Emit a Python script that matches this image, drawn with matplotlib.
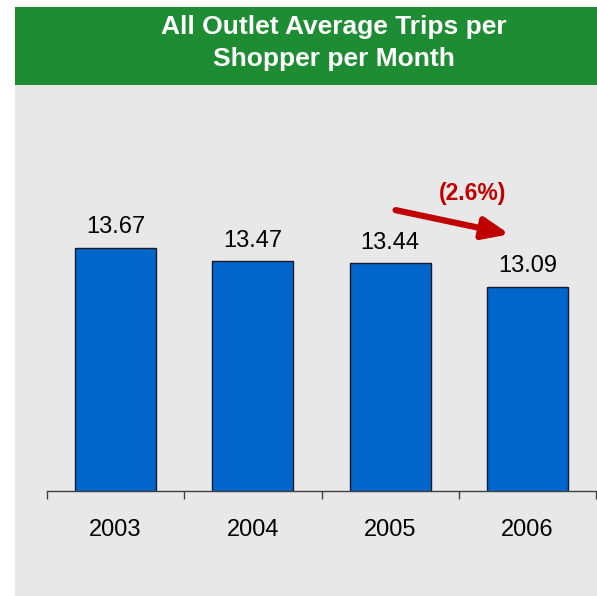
import matplotlib.pyplot as plt
from matplotlib.patches import Rectangle

years = ["2003", "2004", "2005", "2006"]
trips = [13.67, 13.47, 13.44, 13.09]
title = "All Outlet Average Trips per\nShopper per Month"

plt.rcParams["font.family"] = ["Liberation Sans", "DejaVu Sans"]

W, H = 597, 596
fig = plt.figure(figsize=(W / 100, H / 100), dpi=100, facecolor="white")

# grey panel and green header band, kept behind the axes
fig.patches.append(Rectangle((15 / W, 0), 1 - 15 / W, (H - 85) / H,
                             transform=fig.transFigure, facecolor="#e8e8e8",
                             edgecolor="none", zorder=-2))
fig.patches.append(Rectangle((15 / W, (H - 85) / H), 1 - 15 / W, 78 / H,
                             transform=fig.transFigure, facecolor="#1e8c32",
                             edgecolor="none", zorder=-2))
fig.text(334 / W, (H - 43) / H, title, ha="center", va="center", color="white",
         fontsize=19, fontweight="bold", linespacing=1.38)

ax = fig.add_axes([47 / W, (H - 491) / H, (596 - 47) / W, 397 / H])
ax.set_facecolor("none")
x = range(len(years))
ax.bar(x, trips, width=0.59, bottom=0, color="#0066cc", edgecolor="#1a1a2a",
       linewidth=1.0, zorder=2)
ax.set_xlim(-0.5, len(years) - 0.5)
ax.set_ylim(10, 16)

for i, v in enumerate(trips):
    ax.annotate(f"{v:.2f}", (i, v), xytext=(0, 7), textcoords="offset points",
                ha="center", va="bottom", fontsize=17, color="black")

for s in ["top", "right", "left"]:
    ax.spines[s].set_visible(False)
ax.spines["bottom"].set_color("#404040")
ax.spines["bottom"].set_linewidth(1.0)
ax.set_yticks([])
ax.set_xticks(list(x))
ax.set_xticklabels(years, fontsize=17)
ax.set_xticks([i - 0.5 for i in range(len(years) + 1)], minor=True)
ax.tick_params(axis="x", which="major", length=0, pad=20)
ax.tick_params(axis="x", which="minor", length=6, width=1.0, color="#404040")

# year-over-year change, 2005 -> 2006
pct = (trips[3] / trips[2] - 1) * 100
red = "#c00000"
ax.annotate("", xy=(2.87, 13.88), xytext=(2.04, 14.245),
            arrowprops=dict(arrowstyle="-|>,head_length=0.6,head_width=0.25",
                            mutation_scale=26, lw=4.5, color=red,
                            shrinkA=0, shrinkB=0))
ax.text(2.60, 14.50, f"({abs(pct):.1f}%)", ha="center", va="center",
        fontsize=16.5, fontweight="bold", color=red)

fig.savefig("out.png", dpi=100)
